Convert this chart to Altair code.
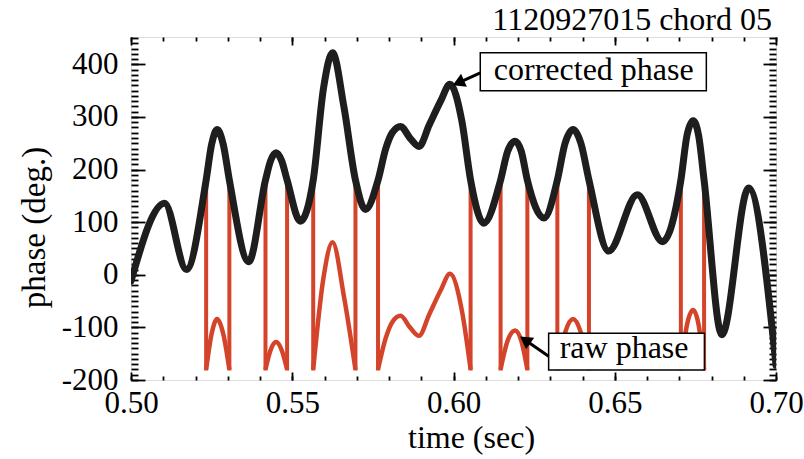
import altair as alt
import pandas as pd

TITLE = "1120927015 chord 05"
FONT = "Liberation Serif"

# corrected phase (black)
corr_t = [0.5000, 0.5104, 0.5172, 0.5233, 0.5250, 0.5267, 0.5286, 0.5305, 0.5365,
          0.5417, 0.5433, 0.5450, 0.5467, 0.5484, 0.5525, 0.5565, 0.5597, 0.5625,
          0.5660, 0.5696, 0.5727, 0.5766, 0.5790, 0.5810, 0.5836, 0.5865, 0.5893,
          0.5925, 0.5960, 0.5989, 0.6026, 0.6053, 0.6094, 0.6146, 0.6168, 0.6191,
          0.6210, 0.6229, 0.6281, 0.6322, 0.6346, 0.6371, 0.6395, 0.6420, 0.6481,
          0.6570, 0.6648, 0.6705, 0.6724, 0.6743, 0.6760, 0.6777, 0.6832, 0.6915,
          0.7000]
corr_v = [-12, 136, 10, 180, 248, 276, 248, 180, 25,
          180, 217, 232, 217, 180, 102, 180, 355, 422,
          320, 180, 124, 180, 240, 270, 282, 260, 244,
          285, 330, 362, 292, 180, 98, 180, 235, 254,
          235, 180, 108, 180, 250, 276, 250, 180, 45,
          152, 63, 180, 265, 293, 265, 180, -114, 165,
          -172]

# raw phase (red) arcs where it is wrapped below the corrected phase
raw_seg = ["A"] * 5 + ["B"] * 5 + ["C"] * 5 + ["D"] * 11 + ["E"] * 5 + ["F"] * 5 + ["G"] * 5
raw_t = [0.5233, 0.5250, 0.5267, 0.5286, 0.5305,
         0.5417, 0.5433, 0.5450, 0.5467, 0.5484,
         0.5565, 0.5597, 0.5625, 0.5660, 0.5696,
         0.5766, 0.5790, 0.5810, 0.5836, 0.5865, 0.5893, 0.5925, 0.5960, 0.5989, 0.6026, 0.6053,
         0.6146, 0.6168, 0.6191, 0.6210, 0.6229,
         0.6322, 0.6346, 0.6371, 0.6395, 0.6420,
         0.6705, 0.6724, 0.6743, 0.6760, 0.6777]
raw_v = [-180, -112, -84, -112, -180,
         -180, -143, -128, -143, -180,
         -180, -5, 62, -40, -180,
         -180, -120, -90, -78, -100, -116, -75, -30, 2, -68, -180,
         -180, -125, -106, -125, -180,
         -180, -110, -84, -110, -180,
         -180, -95, -67, -95, -180]

# phase-wrap jumps of the raw phase
wrap_t = [0.5233, 0.5305, 0.5417, 0.5484, 0.5565, 0.5696, 0.5766, 0.6053,
          0.6146, 0.6229, 0.6322, 0.6420, 0.6705, 0.6777]
wrap_lo = -182
wrap_hi = 176

# annotation boxes / labels / arrows
box_label = ["corrected phase", "raw phase"]
box_x1 = [0.6083, 0.6295]
box_x2 = [0.6784, 0.6778]
box_y1 = [350, -181]
box_y2 = [422, -111]
text_x = [0.6435, 0.6529]
text_y = [371, -159]
arrow_x1 = [0.6083, 0.6295]
arrow_y1 = [384, -155]
arrow_x2 = [0.6015, 0.6222]
arrow_y2 = [365, -124]
arrow_angle = [246, 305]

x_major = [0.50, 0.55, 0.60, 0.65, 0.70]
x_minor = [round(0.50 + 0.01 * i, 2) for i in range(21)]
y_major = [-200, -100, 0, 100, 200, 300, 400]
y_minor = list(range(-200, 451, 10))

W, H = 645, 343
BLACK = "#1e1e1e"
RED = "#d4442a"

corr = pd.DataFrame({"t": corr_t, "v": corr_v})
raw = pd.DataFrame({"seg": raw_seg, "t": raw_t, "v": raw_v})
wraps = pd.DataFrame({"t": wrap_t, "lo": [wrap_lo] * len(wrap_t), "hi": [wrap_hi] * len(wrap_t)})
boxes = pd.DataFrame({"label": box_label, "x1": box_x1, "x2": box_x2, "y1": box_y1, "y2": box_y2,
                      "tx": text_x, "ty": text_y})
arrows = pd.DataFrame({"x1": arrow_x1, "y1": arrow_y1, "x2": arrow_x2, "y2": arrow_y2,
                       "ang": arrow_angle})
title_df = pd.DataFrame({"label": [TITLE]})

xs = alt.Scale(domain=[0.5, 0.7], nice=False, zero=False)
ys = alt.Scale(domain=[-200, 452], nice=False, zero=False)


def tick_axis(orient, values, size, offset):
    return alt.Axis(orient=orient, values=values, tickSize=size, labels=False,
                    domain=False, title=None, offset=offset, ticks=True,
                    tickColor="black", tickWidth=1.8, grid=False)


x_label_axis = alt.Axis(orient="bottom", values=x_major, ticks=False, domain=False, grid=False,
                        labelExpr="format(datum.value, '.2f')", labelFont=FONT, labelFontSize=31,
                        labelColor="black", labelPadding=8, labelFlush=False, labelOverlap=False,
                        title="time (sec)", titleFont=FONT, titleFontSize=32,
                        titleFontWeight="normal", titleColor="black", titleX=340, titleY=67,
                        titleBaseline="alphabetic")
y_label_axis = alt.Axis(orient="left", values=y_major, ticks=False, domain=False, grid=False,
                        labelExpr="'' + datum.value", labelFont=FONT, labelFontSize=31,
                        labelColor="black", labelPadding=13, labelFlush=False, labelOverlap=False,
                        title="phase (deg.)", titleFont=FONT, titleFontSize=33,
                        titleFontWeight="normal", titleColor="black", titleX=-97, titleY=190,
                        titleAngle=270, titleBaseline="middle", titleAlign="center")

rules = alt.Chart(wraps).mark_rule(color=RED, strokeWidth=4, clip=True).encode(
    x=alt.X("t:Q", scale=xs, axis=tick_axis("top", x_minor, 4, -H)),
    y=alt.Y("lo:Q", scale=ys, axis=tick_axis("right", y_minor, 7, -W)),
    y2="hi:Q",
)

arcs = alt.Chart(raw).mark_line(color=RED, strokeWidth=4.5, interpolate="monotone", clip=True).encode(
    x=alt.X("t:Q", scale=xs, axis=tick_axis("top", x_major, 8, -H)),
    y=alt.Y("v:Q", scale=ys, axis=tick_axis("right", y_major, 14, -W)),
    detail="seg:N",
)

black = alt.Chart(corr).mark_line(color=BLACK, strokeWidth=7, interpolate="monotone",
                                  clip=True, strokeJoin="round", strokeCap="round").encode(
    x=alt.X("t:Q", scale=xs, axis=x_label_axis),
    y=alt.Y("v:Q", scale=ys, axis=y_label_axis),
)

rects = alt.Chart(boxes).mark_rect(fill="white", stroke="black", strokeWidth=1.5).encode(
    x=alt.X("x1:Q", scale=xs, axis=tick_axis("bottom", x_major, 8, -H)),
    x2="x2:Q",
    y=alt.Y("y1:Q", scale=ys, axis=tick_axis("left", y_major, 13, -W)),
    y2="y2:Q",
)

texts = alt.Chart(boxes).mark_text(font=FONT, fontSize=32, color="black", baseline="alphabetic",
                                   align="center").encode(
    x=alt.X("tx:Q", scale=xs, axis=tick_axis("bottom", x_minor, 4, -H)),
    y=alt.Y("ty:Q", scale=ys, axis=tick_axis("left", y_minor, 7, -W)),
    text="label:N",
)

shafts = alt.Chart(arrows).mark_rule(color="black", strokeWidth=3).encode(
    x=alt.X("x1:Q", scale=xs, axis=None),
    x2="x2:Q",
    y=alt.Y("y1:Q", scale=ys, axis=None),
    y2="y2:Q",
)

heads = alt.Chart(arrows).mark_point(shape="triangle-up", filled=True, color="black", size=200,
                                     opacity=1).encode(
    x=alt.X("x2:Q", scale=xs, axis=None),
    y=alt.Y("y2:Q", scale=ys, axis=None),
    angle=alt.Angle("ang:Q", scale=None),
)

title = alt.Chart(title_df).mark_text(font=FONT, fontSize=32, color="black", baseline="alphabetic",
                                      align="right").encode(
    x=alt.value(W - 4),
    y=alt.value(-7),
    text="label:N",
)

chart = alt.layer(rules, arcs, black, rects, texts, shafts, heads, title).resolve_axis(
    x="independent", y="independent"
).properties(
    width=W, height=H,
    autosize=alt.AutoSizeParams(type="none"),
    padding={"left": 131, "top": 37, "right": 28, "bottom": 79},
).configure_view(stroke="black", strokeWidth=2).configure(background="white")

chart.save("out.html", embed_options={"renderer": "svg", "actions": False})
